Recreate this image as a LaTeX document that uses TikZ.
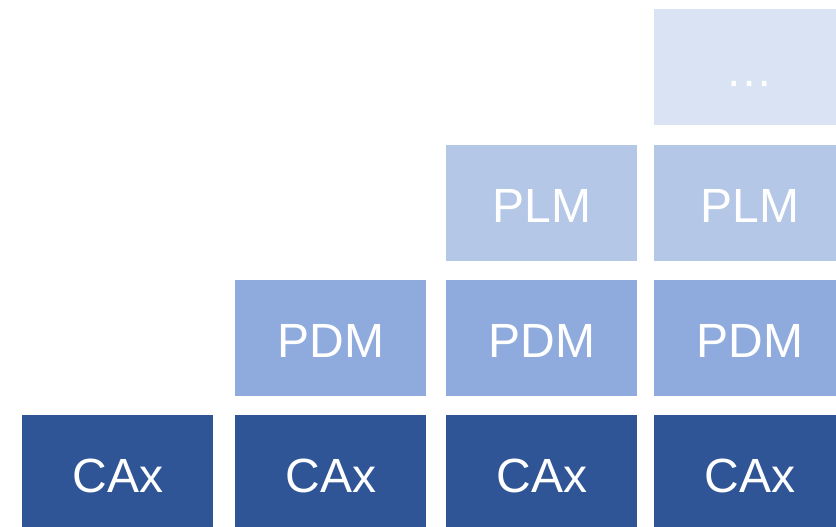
\documentclass[tikz,border=0pt]{standalone}
\usepackage{fontspec}
\setmainfont{Liberation Sans}
\definecolor{cax}{HTML}{2F5597}
\definecolor{pdm}{HTML}{8FAADC}
\definecolor{plm}{HTML}{B4C7E7}
\definecolor{dots}{HTML}{DAE3F3}
\tikzset{
  blk/.style={rectangle, inner sep=0pt, minimum width=191pt, minimum height=116pt,
    text height=38pt, text depth=0pt,
    text=white, font=\fontsize{48}{48}\selectfont, anchor=north west},
}
\begin{document}
\begin{tikzpicture}[x=1pt,y=-1pt]
\useasboundingbox (0,0) rectangle (836,527);
\clip (0,0) rectangle (836,527);
% CAx row
\node[blk, fill=cax] (c1) at (22,415) {CAx};
\node[blk, fill=cax] (c2) at (235,415) {CAx};
\node[blk, fill=cax] (c3) at (446,415) {CAx};
\node[blk, fill=cax] (c4) at (654,415) {CAx};
% PDM row
\node[blk, fill=pdm] (d2) at (235,280) {PDM};
\node[blk, fill=pdm] (d3) at (446,280) {PDM};
\node[blk, fill=pdm] (d4) at (654,280) {PDM};
% PLM row
\node[blk, fill=plm] (l3) at (446,145) {PLM};
\node[blk, fill=plm] (l4) at (654,145) {PLM};
% ... row
\node[blk, fill=dots] (e4) at (654,9) {…};
\end{tikzpicture}
\end{document}
